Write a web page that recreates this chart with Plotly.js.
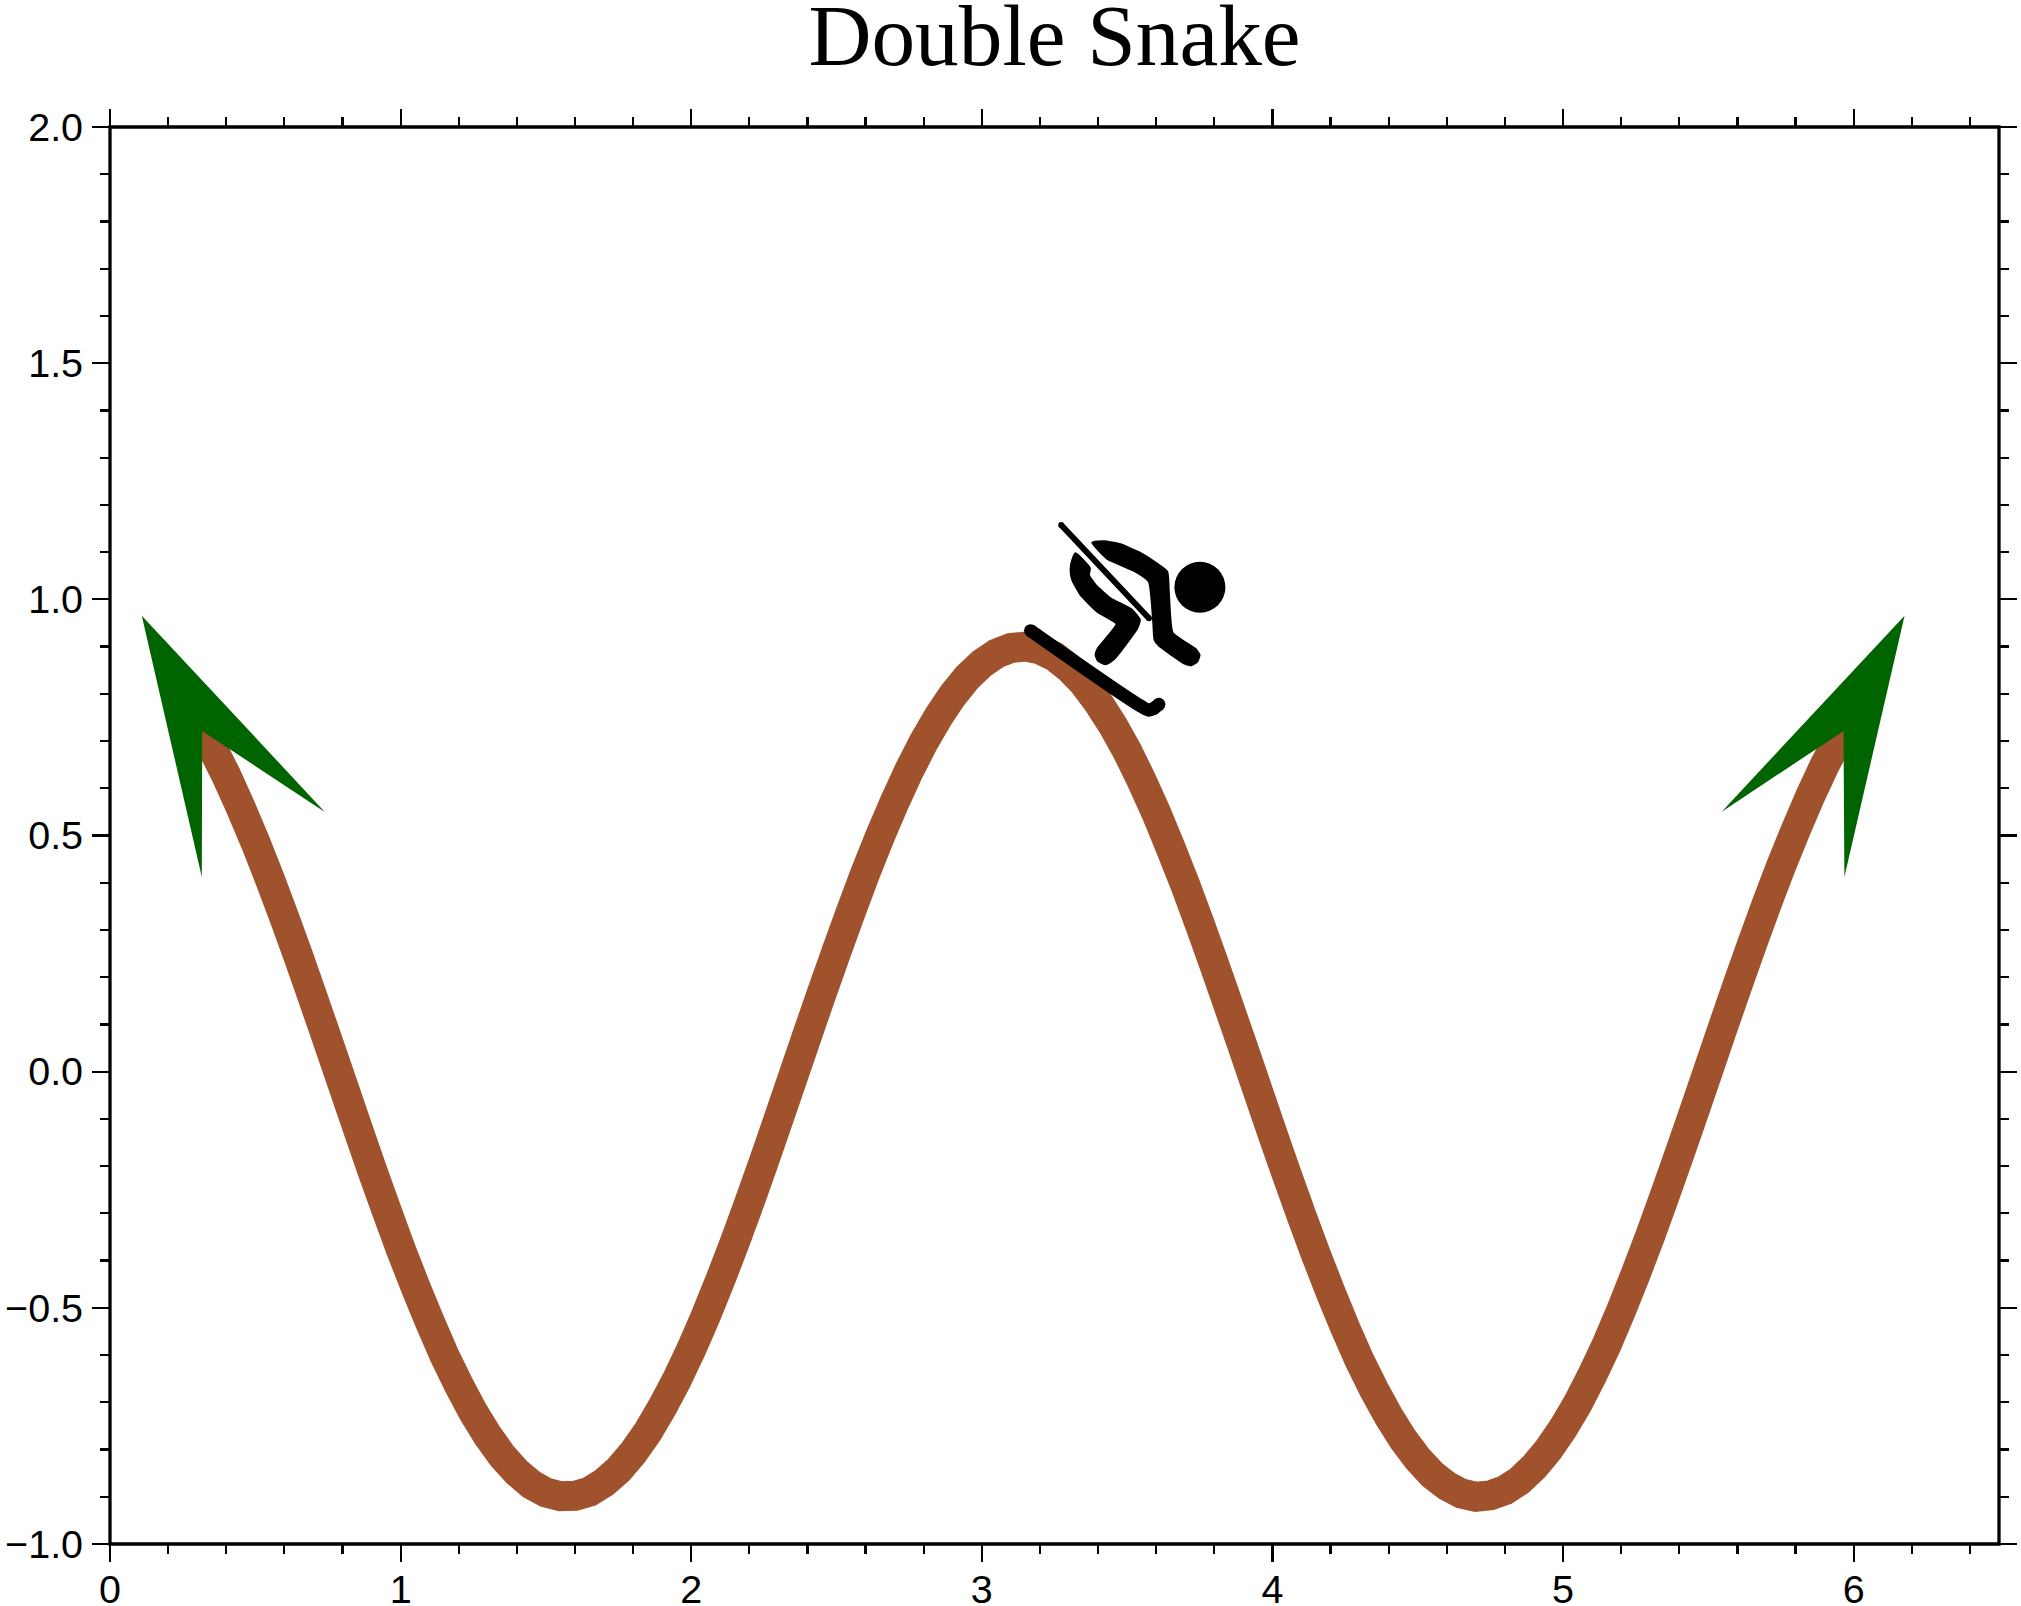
<!DOCTYPE html>
<html>
<head>
<meta charset="utf-8">
<script src="https://cdn.plot.ly/plotly-3.0.1.min.js"></script>
<style>html,body{margin:0;padding:0;background:#fff}</style>
</head>
<body>
<div id="chart" style="width:2021px;height:1606px"></div>
<script>
const curveX = [0.28,0.32,0.35,0.4,0.45,0.5,0.55,0.6,0.65,0.7,0.75,0.8,0.85,0.9,0.95,1.0,1.05,1.1,1.15,1.2,1.25,1.3,1.35,1.4,1.45,1.5,1.55,1.6,1.65,1.7,1.75,1.8,1.85,1.9,1.95,2.0,2.05,2.1,2.15,2.2,2.25,2.3,2.35,2.4,2.45,2.5,2.55,2.6,2.65,2.7,2.75,2.8,2.85,2.9,2.95,3.0,3.05,3.1,3.15,3.2,3.25,3.3,3.35,3.4,3.45,3.5,3.55,3.6,3.65,3.7,3.75,3.8,3.85,3.9,3.95,4.0,4.05,4.1,4.15,4.2,4.25,4.3,4.35,4.4,4.45,4.5,4.55,4.6,4.65,4.7,4.75,4.8,4.85,4.9,4.95,5.0,5.05,5.1,5.15,5.2,5.25,5.3,5.35,5.4,5.45,5.5,5.55,5.6,5.65,5.7,5.75,5.8,5.85,5.9,5.95,6.0];
const curveY = [0.76,0.72,0.688,0.627,0.559,0.486,0.408,0.326,0.241,0.153,0.064,-0.026,-0.116,-0.205,-0.291,-0.375,-0.454,-0.529,-0.600,-0.663,-0.721,-0.771,-0.814,-0.848,-0.874,-0.891,-0.899,-0.898,-0.889,-0.870,-0.843,-0.807,-0.763,-0.711,-0.653,-0.588,-0.517,-0.441,-0.361,-0.277,-0.190,-0.101,-0.011,0.079,0.168,0.255,0.340,0.422,0.499,0.571,0.638,0.698,0.751,0.797,0.835,0.864,0.885,0.897,0.900,0.894,0.879,0.855,0.823,0.782,0.734,0.679,0.616,0.548,0.473,0.395,0.312,0.226,0.138,0.049,-0.041,-0.131,-0.219,-0.305,-0.388,-0.467,-0.542,-0.612,-0.674,-0.730,-0.779,-0.820,-0.853,-0.877,-0.893,-0.900,-0.897,-0.886,-0.866,-0.837,-0.800,-0.755,-0.703,-0.643,-0.578,-0.505,-0.428,-0.347,-0.262,-0.175,-0.086,0.004,0.094,0.183,0.270,0.354,0.435,0.511,0.583,0.649,0.707,0.76];

const arrowLeftX = [0.1094,0.7392,0.3173,0.3159,0.1094];
const arrowLeftY = [0.9655,0.5499,0.7214,0.4122,0.9655];
const arrowRightX = [6.175,5.545,5.965,5.968,6.175];
const arrowRightY = [0.9655,0.5499,0.7214,0.4122,0.9655];

const headX = [3.7503];
const headY = [1.0255];
const poleX = [3.273,3.575];
const poleY = [1.1575,0.9599];
const skiX = [3.1676,3.5461,3.5748,3.5920,3.6092];
const skiY = [0.9337,0.7742,0.7657,0.7693,0.7777];
const torsoX = [3.3798,3.4200,3.4773,3.5404,3.5977,3.6379,3.6436,3.6562,3.7354,3.7491,3.7411,3.7205,3.6952,3.6092,3.5943,3.5897,3.5748,3.5289,3.4773,3.4337,3.3798];
const torsoY = [1.1201,1.1230,1.1166,1.0997,1.0778,1.0587,1.0128,0.9295,0.8949,0.8822,0.8681,0.8603,0.8646,0.9020,0.9140,0.9528,1.0375,1.0587,1.0728,1.0848,1.1201];
const limbX = [3.3225,3.3718,3.3683,3.3913,3.4429,3.5174,3.5438,3.5347,3.4544,3.4257,3.3993,3.3913,3.3993,3.4635,3.3970,3.3397,3.3110,3.3053,3.3110,3.3225];
const limbY = [1.0975,1.0658,1.0517,1.0305,1.0022,0.9775,0.9563,0.9387,0.8730,0.8624,0.8702,0.8822,0.8963,0.9479,0.9740,1.0093,1.0411,1.0622,1.0834,1.0975];

const xTickVals = [0,1,2,3,4,5,6];
const yTickVals = [-1,-0.5,0,0.5,1,1.5,2];
const titleText = 'Double Snake';

const poly = (x, y, color, shape, w) => ({x, y, type:'scatter', mode:'lines', fill:'toself', fillcolor:color, line:{color, width:w||0, simplify:false, shape:shape||'linear', smoothing:0.45}, hoverinfo:'skip', showlegend:false});

const traces = [
  {x:curveX, y:curveY, type:'scatter', mode:'lines', line:{color:'#A0522D', width:30, simplify:false}, showlegend:false},
  poly(arrowLeftX, arrowLeftY, '#006400'),
  poly(arrowRightX, arrowRightY, '#006400'),
  {x:skiX, y:skiY, type:'scatter', mode:'lines+markers', line:{color:'#000', width:13, shape:'spline', simplify:false}, marker:{color:'#000', size:13}, showlegend:false},
  {x:poleX, y:poleY, type:'scatter', mode:'lines+markers', line:{color:'#000', width:6, simplify:false}, marker:{color:'#000', size:6}, showlegend:false},
  poly(torsoX, torsoY, '#000', 'spline', 2),
  poly(limbX, limbY, '#000', 'spline', 2),
  {x:headX, y:headY, type:'scatter', mode:'markers', marker:{color:'#000', size:51, line:{width:0}}, showlegend:false}
];

const axisBase = {
  showgrid:false, zeroline:false, showline:false,
  mirror:'ticks', ticks:'outside', ticklen:17, tickwidth:2.2, tickcolor:'#000',
  tickfont:{family:'"Liberation Sans", Arial, sans-serif', size:39.5, color:'#000'}
};

const layout = {
  width:2021, height:1606, paper_bgcolor:'#fff', plot_bgcolor:'#fff',
  margin:{l:109.5, r:22, t:127, b:62, pad:0},
  showlegend:false,
  title:{text:titleText, font:{family:'"Liberation Serif", "Times New Roman", serif', size:87.3, color:'#000'},
         x:0.5, xref:'paper', xanchor:'center', y:0.9595, yref:'container', yanchor:'bottom'},
  xaxis:Object.assign({}, axisBase, {range:[0,6.5], tickmode:'array', tickvals:xTickVals, ticktext:xTickVals.map(String), ticklabelstandoff:-6,
    minor:{dtick:0.2, ticks:'outside', ticklen:9, tickwidth:2.2, tickcolor:'#000', showgrid:false}}),
  yaxis:Object.assign({}, axisBase, {range:[-1,2], tickmode:'array', tickvals:yTickVals, ticktext:yTickVals.map(v=>(v<0?'\u2212':'')+Math.abs(v).toFixed(1)), ticklabelstandoff:1,
    minor:{dtick:0.1, ticks:'outside', ticklen:9, tickwidth:2.2, tickcolor:'#000', showgrid:false}}),
  shapes:[{type:'rect', xref:'paper', yref:'paper', x0:0, x1:1, y0:0, y1:1, line:{color:'#000', width:3.3}, fillcolor:'rgba(0,0,0,0)', layer:'above'}]
};

Plotly.newPlot('chart', traces, layout, {displayModeBar:false, staticPlot:true});
</script>
</body>
</html>
